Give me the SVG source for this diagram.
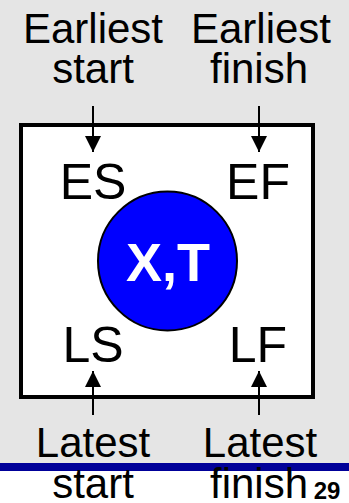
<svg xmlns="http://www.w3.org/2000/svg" width="349" height="503" viewBox="0 0 349 503">
<style>
text{font-family:"Liberation Sans",Arial,sans-serif;fill:#000}
.lbl{font-size:42px;text-anchor:middle}
.cor{font-size:50px;text-anchor:middle}
.arr{stroke:#000;stroke-width:2;fill:none}
</style>
<defs>
<marker id="ah" viewBox="0 0 16 16" refX="16" refY="8" markerWidth="16" markerHeight="16" markerUnits="userSpaceOnUse" orient="auto">
<path d="M0,0 L16,8 L0,16 Z" fill="#000"/>
</marker>
</defs>
<rect x="0" y="0" width="349" height="503" fill="#fff"/>
<rect x="0" y="0" width="349" height="464" fill="#e5e5e5"/>
<rect x="0" y="463" width="349" height="8" fill="#000099"/>
<g id="box">
<rect x="21" y="125" width="292" height="272" fill="#fff" stroke="#000" stroke-width="4"/>
</g>
<g id="ES"><text class="cor" x="93" y="199">ES</text></g>
<g id="EF"><text class="cor" x="258" y="199">EF</text></g>
<g id="LS"><text class="cor" x="93" y="362">LS</text></g>
<g id="LF"><text class="cor" x="258" y="362">LF</text></g>
<g id="task">
<circle cx="167.5" cy="261" r="69.5" fill="#0000ff" stroke="#000" stroke-width="2"/>
<text x="168" y="281" font-size="54" font-weight="bold" text-anchor="middle" style="fill:#fff">X,T</text>
</g>
<g id="earliest-start"><text class="lbl" x="93" y="43">Earliest</text><text class="lbl" x="93" y="83">start</text></g>
<g id="earliest-finish"><text class="lbl" x="261" y="43">Earliest</text><text class="lbl" x="259" y="83">finish</text></g>
<g id="latest-start"><text class="lbl" x="93" y="457">Latest</text><text class="lbl" x="93" y="498">start</text></g>
<g id="latest-finish"><text class="lbl" x="260" y="457">Latest</text><text class="lbl" x="259" y="498">finish</text></g>
<g id="connectors">
<line class="arr" x1="93" y1="106" x2="93" y2="152" marker-end="url(#ah)"/>
<line class="arr" x1="259" y1="106" x2="259" y2="152" marker-end="url(#ah)"/>
<line class="arr" x1="93" y1="415" x2="93" y2="371" marker-end="url(#ah)"/>
<line class="arr" x1="259" y1="415" x2="259" y2="371" marker-end="url(#ah)"/>
</g>
<text x="327" y="499" font-size="24" font-weight="bold" text-anchor="middle">29</text>
</svg>
